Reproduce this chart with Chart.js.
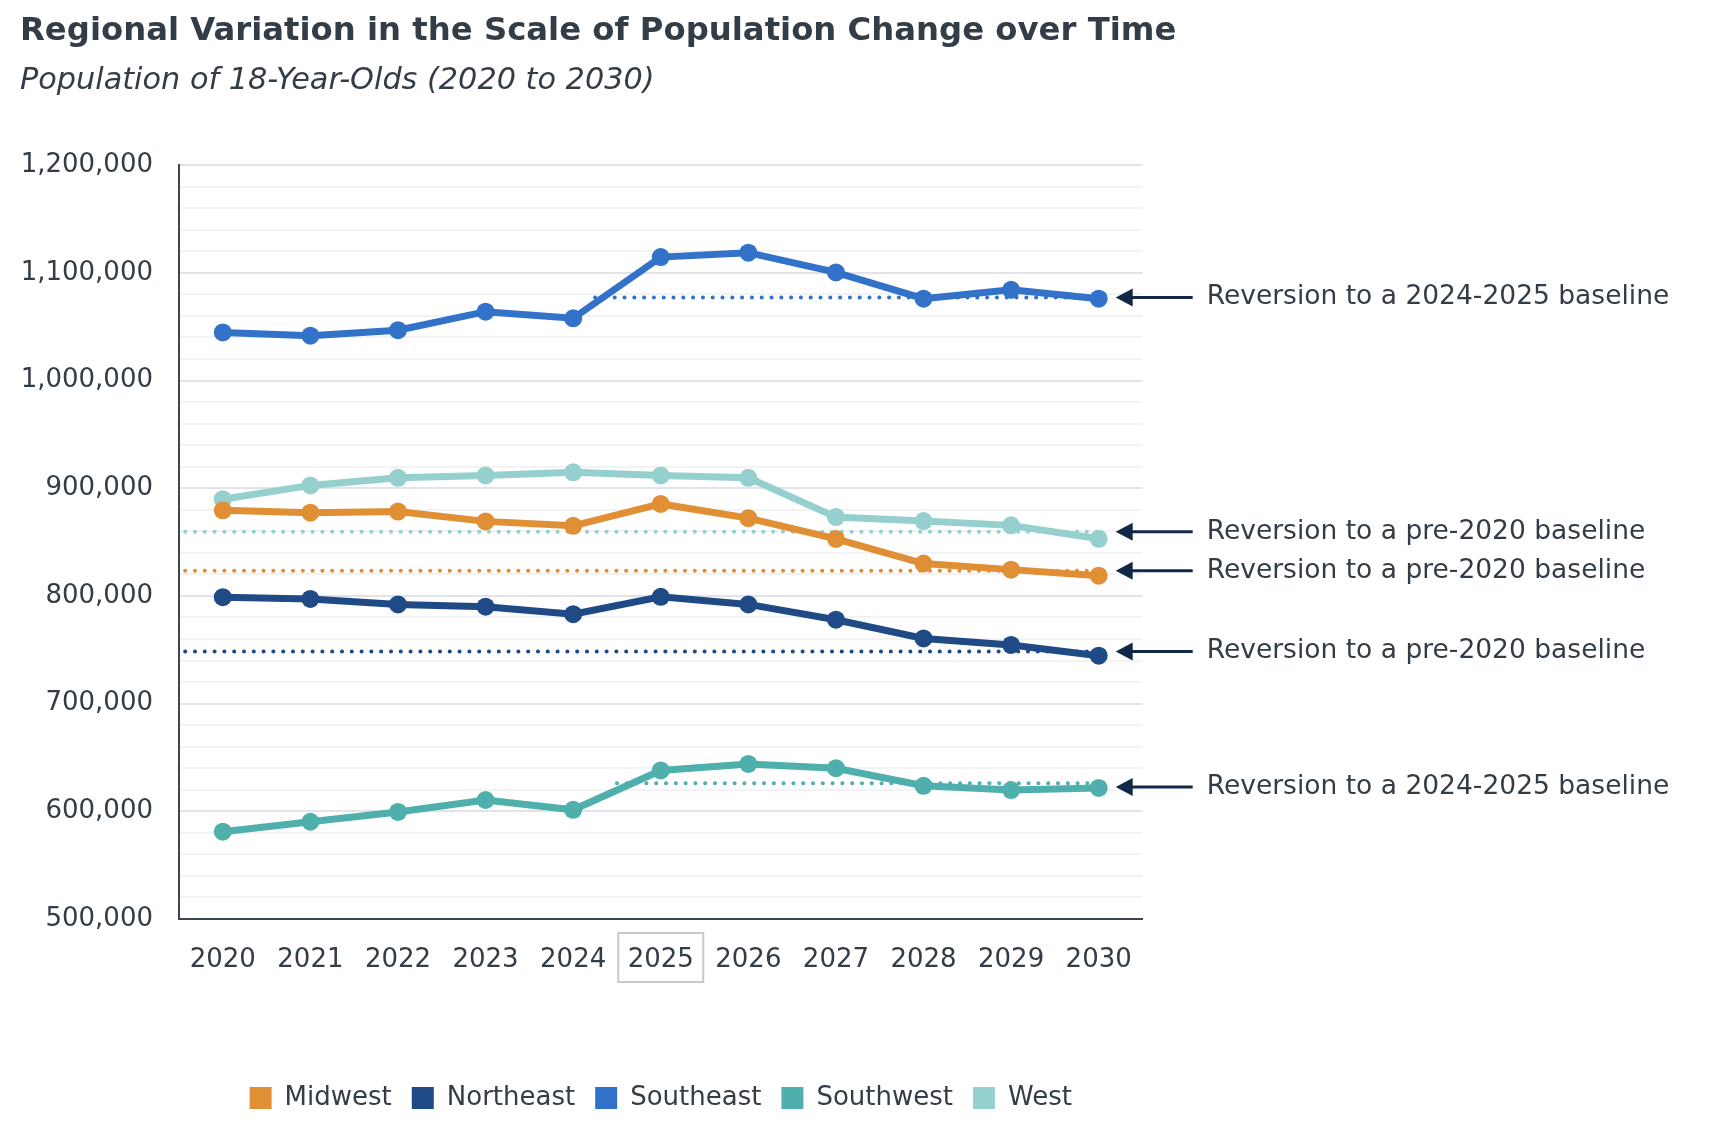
<!DOCTYPE html>
<html>
<head>
<meta charset="utf-8">
<script src="https://cdn.jsdelivr.net/npm/chart.js@4/dist/chart.umd.min.js"></script>
<style>
    body { margin: 0; background: #fff; }
    canvas { display: block; }
</style>
</head>
<body>
<canvas id="popChart" width="1716" height="1136"></canvas>
<script>
let years = [2020, 2021, 2022, 2023, 2024, 2025, 2026, 2027, 2028, 2029, 2030];

let regions = ["Midwest", "Northeast", "Southeast", "Southwest", "West"];
let colors = ["#e08f35", "#1f4a85", "#3272c9", "#4eafad", "#95d0cf"];

let midwest = [879500, 877300, 878300, 869200, 865100, 885400, 872200, 852900, 830000, 824400, 818800];
let northeast = [798800, 797200, 792100, 790000, 783000, 799200, 792100, 777900, 760500, 754500, 744500];
let southeast = [1044600, 1041600, 1046700, 1063900, 1057800, 1114600, 1118700, 1100400, 1076000, 1084200, 1076000];
let southwest = [581100, 590300, 599400, 610500, 601400, 637900, 644000, 640000, 623700, 619700, 621700];
let west = [889800, 902600, 909700, 911800, 914800, 911800, 909700, 873200, 869500, 865500, 853000];

// baselines: value and the year the dotted line starts from
let baselineValues = [823400, 748400, 1077000, 626000, 859500];
let baselineStart = [2019.57, 2019.57, 2024.25, 2024.5, 2019.57];
let baselineNotes = [
    "Reversion to a pre-2020 baseline",
    "Reversion to a pre-2020 baseline",
    "Reversion to a 2024-2025 baseline",
    "Reversion to a 2024-2025 baseline",
    "Reversion to a pre-2020 baseline"
];
let noteValues = [823400, 748400, 1077000, 622500, 859500];

let highlightYear = 2025;
let yTicksMajor = 100000;

let textColor = "#333d47";
let fontFamily = "Verdana, 'DejaVu Sans', sans-serif";

let series = [midwest, northeast, southeast, southwest, west];

let datasets = [];

series.forEach((values, i) => {
    datasets.push({
        label: regions[i],
        data: years.map((y, j) => ({ x: y, y: values[j] })),
        borderColor: colors[i],
        backgroundColor: colors[i],
        borderWidth: 7,
        pointRadius: 9,
        pointBorderWidth: 0,
        pointBackgroundColor: colors[i],
        tension: 0,
        order: 0
    });
});

baselineValues.forEach((v, i) => {
    datasets.push({
        label: regions[i] + " baseline",
        data: [{ x: baselineStart[i], y: v }, { x: 2030, y: v }],
        borderColor: colors[i],
        borderWidth: 4,
        borderDash: [0.1, 9.7],
        borderCapStyle: "round",
        pointRadius: 0,
        tension: 0,
        order: 1
    });
});

let notesPlugin = {
    id: "notes",
    afterDraw(chart) {
        let ctx = chart.ctx;
        let xs = chart.scales.x;
        let ys = chart.scales.y;
        let lastX = xs.getPixelForValue(years[years.length - 1]);

        ctx.save();
        // arrows + text
        noteValues.forEach((v, i) => {
            let y = ys.getPixelForValue(v);
            let tip = lastX + 17;
            ctx.strokeStyle = "#132848";
            ctx.fillStyle = "#132848";
            ctx.lineWidth = 3;
            ctx.beginPath();
            ctx.moveTo(tip + 10, y);
            ctx.lineTo(tip + 77, y);
            ctx.stroke();
            ctx.beginPath();
            ctx.moveTo(tip, y);
            ctx.lineTo(tip + 17, y - 9);
            ctx.lineTo(tip + 17, y + 9);
            ctx.closePath();
            ctx.fill();

            ctx.fillStyle = textColor;
            ctx.font = "26.5px " + fontFamily;
            ctx.textAlign = "left";
            ctx.textBaseline = "middle";
            ctx.fillText(baselineNotes[i], tip + 91, y);
        });

        // box round the highlighted year label
        let hx = xs.getPixelForValue(highlightYear);
        let bottom = chart.chartArea.bottom;
        ctx.strokeStyle = "#c6c9cd";
        ctx.lineWidth = 2;
        ctx.strokeRect(hx - 42.5, bottom + 14, 85, 49);
        ctx.restore();
    }
};

let popChart = new Chart(document.getElementById("popChart"), {
    type: "line",
    data: { datasets: datasets },
    options: {
        responsive: false,
        animation: false,
        devicePixelRatio: 1,
        layout: {
            padding: { left: 20, right: 0, top: 0, bottom: 15 }
        },
        scales: {
            x: {
                type: "linear",
                min: 2019.5,
                max: 2030.5,
                afterBuildTicks: (s) => {
                    s.ticks = years.map(y => ({ value: y }));
                },
                afterFit: (s) => { s.height = 146; },
                ticks: {
                    autoSkip: false,
                    maxRotation: 0,
                    padding: 26,
                    color: textColor,
                    font: { family: fontFamily, size: 26 },
                    callback: (v) => String(v)
                },
                grid: { display: false, drawTicks: false },
                border: { display: true, color: "#3d4650", width: 2 }
            },
            y: {
                min: 500000,
                max: 1200000,
                afterFit: (s) => { s.width = 159; },
                ticks: {
                    stepSize: 20000,
                    autoSkip: false,
                    padding: 26,
                    color: textColor,
                    font: { family: fontFamily, size: 26 },
                    callback: (v) => v % yTicksMajor === 0 ? v.toLocaleString("en-US") : ""
                },
                grid: {
                    drawTicks: false,
                    lineWidth: 2,
                    color: (c) => c.tick && c.tick.value % yTicksMajor === 0 ? "#e1e3e8" : "#f2f3f5"
                },
                border: { display: true, color: "#3d4650", width: 2 }
            },
            yPad: {
                position: "right",
                display: true,
                afterFit: (s) => { s.width = 573.5; },
                ticks: { display: false },
                grid: { display: false, drawTicks: false },
                border: { display: false }
            }
        },
        plugins: {
            title: {
                display: true,
                text: "Regional Variation in the Scale of Population Change over Time",
                align: "start",
                color: textColor,
                font: { family: fontFamily, size: 32.3, weight: "bold" },
                padding: { top: 12, bottom: 12 }
            },
            subtitle: {
                display: true,
                text: "Population of 18-Year-Olds (2020 to 2030)",
                align: "start",
                color: textColor,
                font: { family: fontFamily, size: 30.3, style: "italic" },
                padding: { top: 0, bottom: 66 }
            },
            legend: {
                position: "bottom",
                fullSize: false,
                labels: {
                    boxWidth: 22,
                    boxHeight: 22,
                    padding: 20,
                    color: textColor,
                    font: { family: fontFamily, size: 26 },
                    generateLabels: () => regions.map((name, i) => ({
                        text: name,
                        fillStyle: colors[i],
                        strokeStyle: colors[i],
                        lineWidth: 0,
                        hidden: false,
                        datasetIndex: i,
                        fontColor: textColor
                    }))
                }
            },
            tooltip: { enabled: false }
        }
    },
    plugins: [notesPlugin]
});
</script>
</body>
</html>
